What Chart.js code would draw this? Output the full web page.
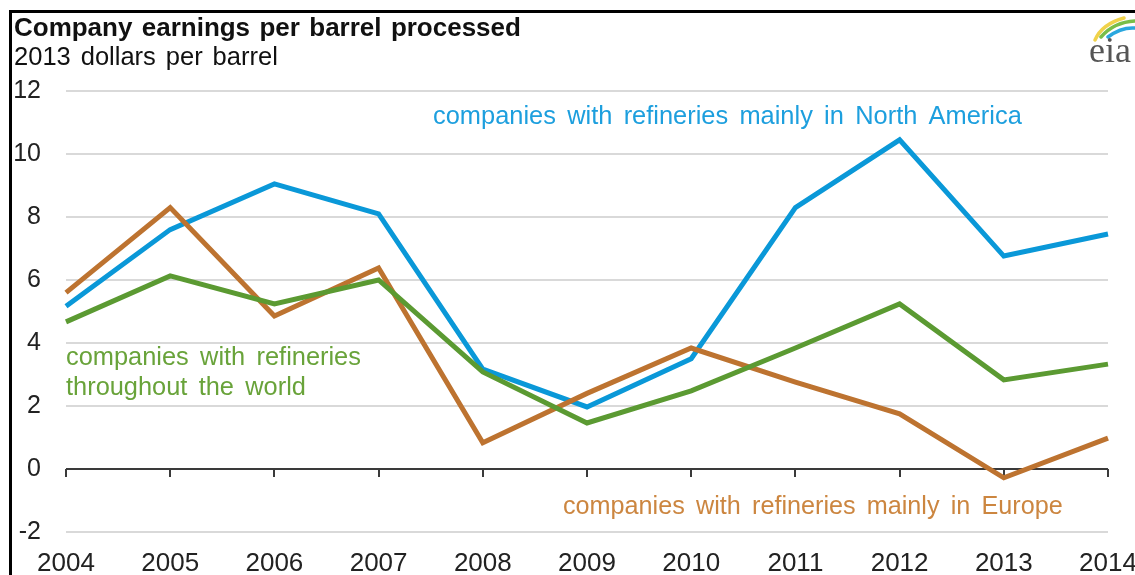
<!DOCTYPE html>
<html>
<head>
<meta charset="utf-8">
<script src="https://cdn.jsdelivr.net/npm/chart.js@4.4.1/dist/chart.umd.min.js"></script>
<style>
  html, body { margin: 0; padding: 0; background: #ffffff; }
  #wrap { width: 1135px; height: 575px; position: relative; overflow: hidden; }
</style>
</head>
<body>
<div id="wrap"><canvas id="c" width="1135" height="575"></canvas></div>
<script>
// ---- data ----
const years = ['2004','2005','2006','2007','2008','2009','2010','2011','2012','2013','2014'];
const northAmerica = [5.17, 7.6, 9.05, 8.1, 3.17, 1.97, 3.5, 8.3, 10.45, 6.76, 7.46];
const europe       = [5.6, 8.3, 4.86, 6.38, 0.83, 2.4, 3.84, 2.76, 1.75, -0.28, 0.98];
const world        = [4.67, 6.13, 5.24, 6.0, 3.08, 1.46, 2.48, 3.84, 5.24, 2.83, 3.33];
const yMin = -2, yMax = 12, yStep = 2;

const titleText = 'Company earnings per barrel processed';
const subtitleText = '2013 dollars per barrel';
const labelNA = 'companies with refineries mainly in North America';
const labelWorld = ['companies with refineries', 'throughout the world'];
const labelEU = 'companies with refineries mainly in Europe';

const BLUE = '#0a98d8', ORANGE = '#bd7330', GREEN = '#5b9a32';
const FONT = '"Liberation Sans", Arial, sans-serif';

// draw text whose total width matches `width`, with slightly wide word gaps
function drawFit(ctx, text, x, y, width, weight, gapFactor, color) {
  ctx.save();
  const base = 20;
  ctx.font = weight + ' ' + base + 'px ' + FONT;
  const words = text.split(' ');
  const sp = ctx.measureText(' ').width;
  const natural = words.reduce((a, w) => a + ctx.measureText(w).width, 0) + sp * gapFactor * (words.length - 1);
  const size = base * width / natural;
  ctx.font = weight + ' ' + size.toFixed(2) + 'px ' + FONT;
  ctx.fillStyle = color;
  ctx.textBaseline = 'middle';
  ctx.textAlign = 'left';
  const gap = ctx.measureText(' ').width * gapFactor;
  let cx = x;
  words.forEach(w => { ctx.fillText(w, cx, y); cx += ctx.measureText(w).width + gap; });
  ctx.restore();
}

const decor = {
  id: 'decor',
  beforeDatasetsDraw(chart) {
    const ctx = chart.ctx;
    const xs = chart.scales.x, ys = chart.scales.y;
    const y0 = ys.getPixelForValue(0);
    ctx.save();
    ctx.strokeStyle = '#3a3a3a';
    ctx.lineWidth = 2;
    ctx.beginPath();
    ctx.moveTo(xs.left, y0); ctx.lineTo(xs.right, y0);
    years.forEach((_, i) => {
      const px = Math.round(xs.getPixelForValue(i));
      ctx.moveTo(px, y0); ctx.lineTo(px, y0 + 8);
    });
    ctx.stroke();
    ctx.restore();
  },
  afterDraw(chart) {
    const ctx = chart.ctx;
    // frame
    ctx.save();
    ctx.strokeStyle = '#000';
    ctx.lineWidth = 3;
    ctx.beginPath();
    ctx.moveTo(10, 11.5); ctx.lineTo(1135, 11.5);
    ctx.moveTo(10.5, 10); ctx.lineTo(10.5, 575);
    ctx.stroke();
    ctx.restore();
    // titles
    drawFit(ctx, titleText, 14, 29, 507, 'bold', 1.3, '#111');
    drawFit(ctx, subtitleText, 14, 58, 264, 'normal', 1.4, '#111');
    // annotations
    drawFit(ctx, labelNA, 433, 117, 589, 'normal', 1.6, '#1d9fde');
    drawFit(ctx, labelWorld[0], 66, 358, 295, 'normal', 1.6, '#69a33a');
    drawFit(ctx, labelWorld[1], 66, 388, 240, 'normal', 1.6, '#69a33a');
    drawFit(ctx, labelEU, 563, 507, 500, 'normal', 1.6, '#cc8640');
    // eia logo
    ctx.save();
    ctx.lineCap = 'round';
    ctx.lineWidth = 3.5;
    ctx.strokeStyle = '#f0d24a';
    ctx.beginPath(); ctx.moveTo(1095, 40); ctx.quadraticCurveTo(1102, 24, 1124, 18); ctx.stroke();
    ctx.strokeStyle = '#79be48';
    ctx.beginPath(); ctx.moveTo(1101, 37); ctx.quadraticCurveTo(1114, 22, 1135, 21); ctx.stroke();
    ctx.strokeStyle = '#2aa7de';
    ctx.beginPath(); ctx.moveTo(1108, 37); ctx.quadraticCurveTo(1121, 27, 1135, 28); ctx.stroke();
    ctx.fillStyle = '#555';
    ctx.font = '36px "Liberation Serif", "DejaVu Serif", serif';
    ctx.textBaseline = 'alphabetic';
    ctx.fillText('eia', 1089, 62);
    ctx.restore();
  }
};

const mk = (data, color) => ({
  data, borderColor: color, backgroundColor: color, borderWidth: 5,
  pointRadius: 0, tension: 0, fill: false, borderJoinStyle: 'miter', borderCapStyle: 'butt'
});

new Chart(document.getElementById('c'), {
  type: 'line',
  data: {
    labels: years,
    datasets: [mk(world, GREEN), mk(europe, ORANGE), mk(northAmerica, BLUE)]
  },
  options: {
    responsive: false,
    devicePixelRatio: 1,
    animation: false,
    layout: { padding: { top: 91, right: 27, left: 0, bottom: 0 } },
    plugins: { legend: { display: false }, tooltip: { enabled: false } },
    scales: {
      x: {
        offset: false,
        grid: { display: false, drawTicks: false },
        border: { display: false },
        ticks: { color: '#222', font: { family: FONT, size: 26 }, padding: 16, maxRotation: 0, autoSkip: false },
        afterFit(s) { s.height = 43; s.paddingLeft = 0; s.paddingRight = 0; }
      },
      y: {
        min: yMin, max: yMax,
        grid: {
          drawTicks: false,
          color: c => (c.tick && c.tick.value === 0) ? 'rgba(0,0,0,0)' : '#d9d9d9',
          lineWidth: 2
        },
        border: { display: false },
        ticks: { stepSize: yStep, color: '#222', font: { family: FONT, size: 25 }, padding: 25 },
        afterFit(s) { s.width = 66; s.paddingTop = 0; s.paddingBottom = 0; }
      }
    }
  },
  plugins: [decor]
});
</script>
</body>
</html>
